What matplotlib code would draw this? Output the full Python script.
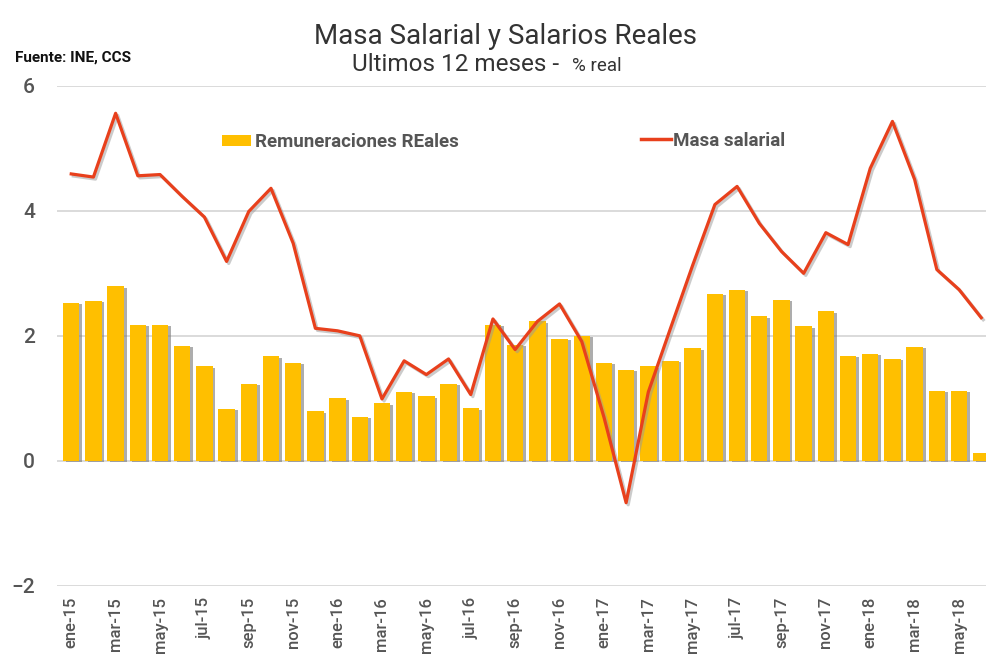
import matplotlib
matplotlib.use("Agg")
import matplotlib.pyplot as plt
import matplotlib.patheffects as pe
from matplotlib.patches import Patch
from matplotlib.lines import Line2D

plt.rcParams['font.family'] = ['Roboto', 'DejaVu Sans']

# data
meses = ['ene', 'feb', 'mar', 'abr', 'may', 'jun', 'jul', 'ago', 'sep', 'oct', 'nov', 'dic']
years = ['15', '16', '17', '18']
periodos = [f'{m}-{y}' for y in years for m in meses][:42]   # ene-15 .. jun-18

remuneraciones = [2.53, 2.56, 2.79, 2.18, 2.18, 1.84, 1.51, 0.83, 1.23, 1.67, 1.57, 0.79,
                  1.00, 0.70, 0.92, 1.10, 1.03, 1.23, 0.84, 2.18, 1.86, 2.23, 1.95, 2.00,
                  1.57, 1.46, 1.51, 1.60, 1.80, 2.67, 2.74, 2.31, 2.58, 2.15, 2.39, 1.68,
                  1.71, 1.63, 1.82, 1.12, 1.12, 0.12]
masa_salarial = [4.59, 4.54, 5.56, 4.56, 4.58, 4.23, 3.90, 3.19, 3.99, 4.36, 3.48, 2.12,
                 2.08, 2.00, 0.99, 1.60, 1.38, 1.63, 1.06, 2.27, 1.78, 2.23, 2.51, 1.91,
                 0.70, -0.67, 1.10, 2.12, 3.13, 4.10, 4.39, 3.80, 3.35, 3.00, 3.65, 3.46,
                 4.68, 5.43, 4.50, 3.06, 2.74, 2.29]

col_bar = '#FFBF00'
col_line = '#E8401C'
col_text = '#555555'

fig = plt.figure(figsize=(9.87, 6.65), dpi=100)
ax = fig.add_axes([0.058, 0.119, 0.942, 0.752])

x = list(range(len(periodos)))
ax.bar(x, remuneraciones, width=0.74, color=col_bar, zorder=3,
       path_effects=[pe.SimplePatchShadow(offset=(2, -1), shadow_rgbFace='#777777', alpha=0.6), pe.Normal()])
ax.plot(x, masa_salarial, color=col_line, lw=2.3, zorder=4,
        path_effects=[pe.SimpleLineShadow(offset=(1.5, -1.5), shadow_color='#999999', alpha=0.5), pe.Normal()])

ax.set_xlim(-0.63, 41.26)
ax.set_ylim(-2, 6)
ax.set_yticks([-2, 0, 2, 4, 6])
ax.grid(axis='y', color='#d4d4d4', lw=1.2, zorder=0)
ax.set_axisbelow(True)
for s in ax.spines.values():
    s.set_visible(False)

ax.set_xticks(x[::2])
ax.set_xticklabels(periodos[::2], rotation=90, fontsize=12, color=col_text, fontweight='medium')
ax.tick_params(axis='x', length=0, pad=8)
ax.tick_params(axis='y', length=0, pad=16, labelsize=15, labelcolor=col_text)
for t in ax.get_yticklabels():
    t.set_fontweight('medium')

# legends
h1 = [Patch(facecolor=col_bar, edgecolor='none')]
leg1 = fig.legend(h1, ['Remuneraciones REales'], loc='center left', bbox_to_anchor=(0.208, 0.786),
                  frameon=False, handlelength=1.55, handleheight=0.55, handletextpad=0.2,
                  prop={'size': 13.5, 'weight': 'bold'}, labelcolor=col_text)
h2 = [Line2D([0], [0], color=col_line, lw=2.5)]
leg2 = fig.legend(h2, ['Masa salarial'], loc='center left', bbox_to_anchor=(0.632, 0.788),
                  frameon=False, handlelength=1.6, handletextpad=0.15,
                  prop={'size': 13.5, 'weight': 'bold'}, labelcolor=col_text)

# titles
fig.text(0.512, 0.945, 'Masa Salarial y Salarios Reales', ha='center', va='center',
         fontsize=20, color='#333333')
fig.text(0.357, 0.903, 'Ultimos 12 meses -', ha='left', va='center',
         fontsize=17.5, color='#333333')
fig.text(0.58, 0.901, '% real', ha='left', va='center',
         fontsize=13.5, color='#333333')
fig.text(0.015, 0.913, 'Fuente: INE, CCS', ha='left', va='center',
         fontsize=11, fontweight='bold', color='#111111')

fig.savefig('out.png', dpi=100)
